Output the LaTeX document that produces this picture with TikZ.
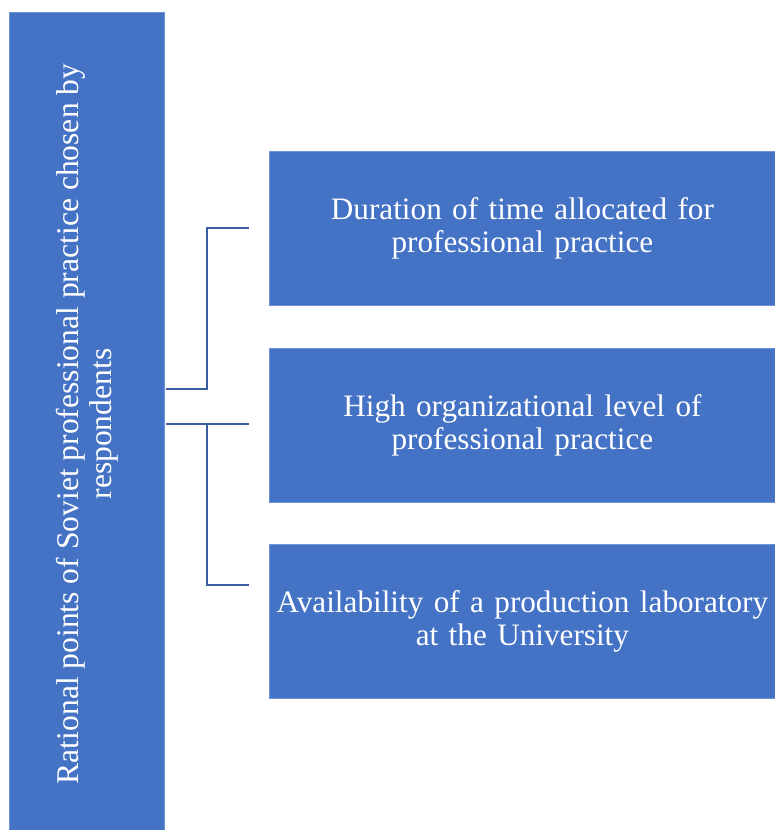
\documentclass[tikz,border=0pt]{standalone}
\usepackage{fontspec}
\setmainfont{Liberation Serif}
\definecolor{boxblue}{HTML}{4472C4}
\definecolor{edgeblue}{HTML}{6E93D6}
\definecolor{lineblue}{HTML}{3B5EA3}
\begin{document}
\begin{tikzpicture}[x=1pt,y=-1pt,
  bluebox/.style={fill=boxblue,draw=edgeblue,line width=0.8pt,text=white,
    font=\fontsize{31.2}{33}\selectfont,align=center,inner sep=0pt},
  link/.style={draw=lineblue,line width=2.8pt}]
\useasboundingbox (0,0) rectangle (775,830);
\fill[white] (0,0) rectangle (775,830);
\node[bluebox,minimum width=155pt,minimum height=818pt,anchor=north west] (main) at (8.5,12) {};
\node[rotate=90,text=white,font=\fontsize{31.6}{33}\selectfont,align=center] (maintext) at (87,424)
  {Rational points of Soviet professional practice chosen by\\respondents};
\node[bluebox,minimum width=506pt,minimum height=154pt,text width=500pt,anchor=north west] (b1) at (269,151)
  {Duration of time allocated for\\professional practice};
\node[bluebox,minimum width=506pt,minimum height=154pt,text width=500pt,anchor=north west] (b2) at (269,347.5)
  {High organizational level of\\professional practice};
\node[bluebox,minimum width=506pt,minimum height=154pt,text width=500pt,anchor=north west] (b3) at (269,544)
  {Availability of a production laboratory\\at the University};
\coordinate (s1) at (166,389);
\coordinate (e1) at (249,228);
\coordinate (s2) at (166,424);
\coordinate (e2) at (249,424);
\coordinate (e3) at (249,585);
\coordinate (j2) at (207,424);
\draw[link] (s1) -| (207,228) -- (e1);
\draw[link] (s2) -- (e2);
\draw[link] (j2) |- (e3);
\end{tikzpicture}
\end{document}
